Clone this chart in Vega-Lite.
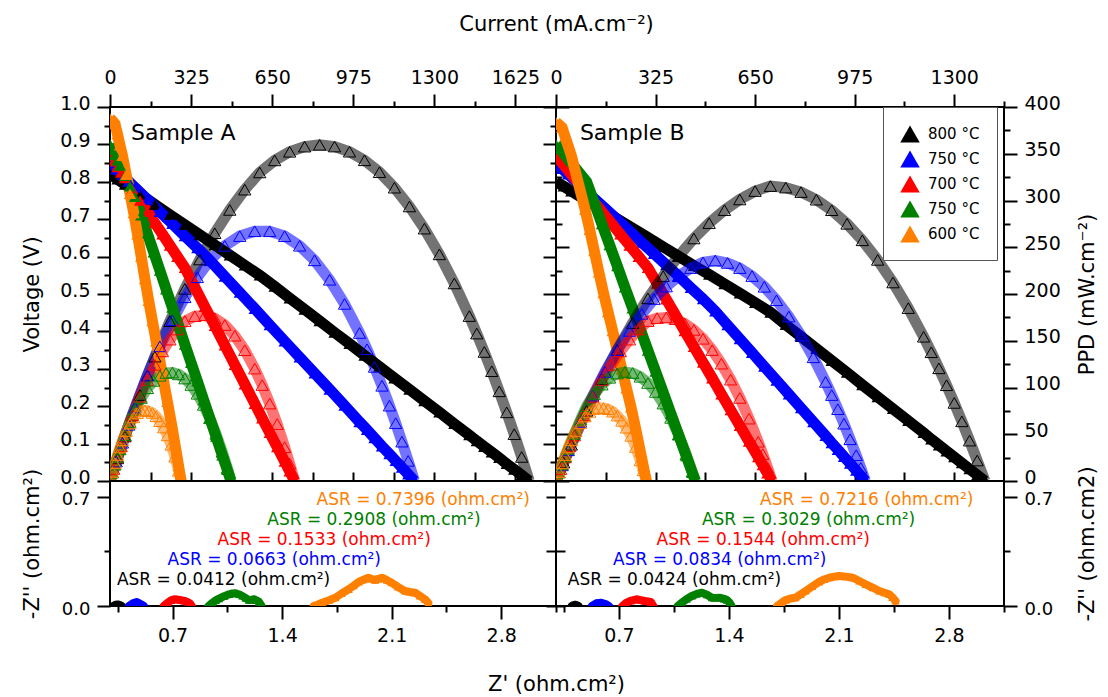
{
"$schema":"https://vega.github.io/schema/vega-lite/v6.json",
"background":"white",
"padding":{"left":20,"top":12,"right":12,"bottom":5},
"config":{
 "font":"DejaVu Sans",
 "view":{"stroke":"black","strokeWidth":2},
 "axis":{"grid":false,"domain":false,"tickColor":"black","tickWidth":2,"labelColor":"black","labelFont":"DejaVu Sans","labelFontSize":19,"titleFont":"DejaVu Sans","titleFontSize":21,"titleFontWeight":"normal","titleColor":"black","labelFlush":false,"labelOverlap":false,"labelPadding":7}
},
"datasets":{
"lbl":[{"s":"A","i":84,"v":0.93,"text":"Sample A"},{"s":"B","i":78,"v":0.93,"text":"Sample B"}],
"asr":[
{"s":"A","t":"600","zr":1.62,"zi":0.678,"label":"ASR = 0.7396 (ohm.cm²)"},
{"s":"A","t":"650","zr":1.305,"zi":0.548,"label":"ASR = 0.2908 (ohm.cm²)"},
{"s":"A","t":"700","zr":0.987,"zi":0.42,"label":"ASR = 0.1533 (ohm.cm²)"},
{"s":"A","t":"750","zr":0.668,"zi":0.292,"label":"ASR = 0.0663 (ohm.cm²)"},
{"s":"A","t":"800","zr":0.344,"zi":0.164,"label":"ASR = 0.0412 (ohm.cm²)"},
{"s":"B","t":"600","zr":1.598,"zi":0.676,"label":"ASR = 0.7216 (ohm.cm²)"},
{"s":"B","t":"650","zr":1.228,"zi":0.548,"label":"ASR = 0.3029 (ohm.cm²)"},
{"s":"B","t":"700","zr":0.94,"zi":0.42,"label":"ASR = 0.1544 (ohm.cm²)"},
{"s":"B","t":"750","zr":0.663,"zi":0.292,"label":"ASR = 0.0834 (ohm.cm²)"},
{"s":"B","t":"800","zr":0.375,"zi":0.164,"label":"ASR = 0.0424 (ohm.cm²)"}
],
"eis":[
{"s":"A","t":"800","zr":0.32,"zi":0},{"s":"A","t":"800","zr":0.335,"zi":0.008},{"s":"A","t":"800","zr":0.35,"zi":0.01},{"s":"A","t":"800","zr":0.365,"zi":0.006},{"s":"A","t":"800","zr":0.375,"zi":0},
{"s":"A","t":"750","zr":0.42,"zi":0},{"s":"A","t":"750","zr":0.446,"zi":0.017},{"s":"A","t":"750","zr":0.471,"zi":0.026},{"s":"A","t":"750","zr":0.498,"zi":0.011},{"s":"A","t":"750","zr":0.516,"zi":0},
{"s":"A","t":"700","zr":0.643,"zi":0},{"s":"A","t":"700","zr":0.668,"zi":0.021},{"s":"A","t":"700","zr":0.69,"zi":0.036},{"s":"A","t":"700","zr":0.711,"zi":0.043},{"s":"A","t":"700","zr":0.732,"zi":0.041},{"s":"A","t":"700","zr":0.753,"zi":0.038},{"s":"A","t":"700","zr":0.775,"zi":0.033},{"s":"A","t":"700","zr":0.796,"zi":0.026},{"s":"A","t":"700","zr":0.812,"zi":0.015},{"s":"A","t":"700","zr":0.823,"zi":0},
{"s":"A","t":"650","zr":0.929,"zi":0},{"s":"A","t":"650","zr":0.955,"zi":0.021},{"s":"A","t":"650","zr":0.976,"zi":0.036},{"s":"A","t":"650","zr":0.997,"zi":0.047},{"s":"A","t":"650","zr":1.03,"zi":0.063},{"s":"A","t":"650","zr":1.061,"zi":0.075},{"s":"A","t":"650","zr":1.082,"zi":0.08},{"s":"A","t":"650","zr":1.103,"zi":0.081},{"s":"A","t":"650","zr":1.125,"zi":0.074},{"s":"A","t":"650","zr":1.146,"zi":0.064},{"s":"A","t":"650","zr":1.167,"zi":0.05},{"s":"A","t":"650","zr":1.188,"zi":0.038},{"s":"A","t":"650","zr":1.205,"zi":0.04},{"s":"A","t":"650","zr":1.22,"zi":0.043},{"s":"A","t":"650","zr":1.237,"zi":0.036},{"s":"A","t":"650","zr":1.252,"zi":0.026},{"s":"A","t":"650","zr":1.269,"zi":0},
{"s":"A","t":"600","zr":1.602,"zi":0},{"s":"A","t":"600","zr":1.63,"zi":0.01},{"s":"A","t":"600","zr":1.655,"zi":0.021},{"s":"A","t":"600","zr":1.7,"zi":0.037},{"s":"A","t":"600","zr":1.74,"zi":0.053},{"s":"A","t":"600","zr":1.78,"zi":0.08},{"s":"A","t":"600","zr":1.825,"zi":0.107},{"s":"A","t":"600","zr":1.857,"zi":0.13},{"s":"A","t":"600","zr":1.889,"zi":0.154},{"s":"A","t":"600","zr":1.92,"zi":0.168},{"s":"A","t":"600","zr":1.952,"zi":0.181},{"s":"A","t":"600","zr":1.973,"zi":0.173},{"s":"A","t":"600","zr":1.994,"zi":0.166},{"s":"A","t":"600","zr":2.015,"zi":0.174},{"s":"A","t":"600","zr":2.037,"zi":0.181},{"s":"A","t":"600","zr":2.07,"zi":0.165},{"s":"A","t":"600","zr":2.1,"zi":0.149},{"s":"A","t":"600","zr":2.14,"zi":0.122},{"s":"A","t":"600","zr":2.185,"zi":0.096},{"s":"A","t":"600","zr":2.215,"zi":0.09},{"s":"A","t":"600","zr":2.249,"zi":0.085},{"s":"A","t":"600","zr":2.28,"zi":0.065},{"s":"A","t":"600","zr":2.313,"zi":0.043},{"s":"A","t":"600","zr":2.334,"zi":0.02},
{"s":"B","t":"800","zr":0.4,"zi":0},{"s":"B","t":"800","zr":0.411,"zi":0.006},{"s":"B","t":"800","zr":0.422,"zi":0.008},{"s":"B","t":"800","zr":0.433,"zi":0.006},{"s":"B","t":"800","zr":0.443,"zi":0},
{"s":"B","t":"750","zr":0.529,"zi":0},{"s":"B","t":"750","zr":0.556,"zi":0.017},{"s":"B","t":"750","zr":0.588,"zi":0.021},{"s":"B","t":"750","zr":0.62,"zi":0.011},{"s":"B","t":"750","zr":0.637,"zi":0},
{"s":"B","t":"700","zr":0.722,"zi":0},{"s":"B","t":"700","zr":0.748,"zi":0.021},{"s":"B","t":"700","zr":0.78,"zi":0.035},{"s":"B","t":"700","zr":0.812,"zi":0.043},{"s":"B","t":"700","zr":0.838,"zi":0.038},{"s":"B","t":"700","zr":0.865,"zi":0.032},{"s":"B","t":"700","zr":0.885,"zi":0.029},{"s":"B","t":"700","zr":0.904,"zi":0.026},{"s":"B","t":"700","zr":0.919,"zi":0},
{"s":"B","t":"650","zr":1.074,"zi":0},{"s":"B","t":"650","zr":1.1,"zi":0.021},{"s":"B","t":"650","zr":1.132,"zi":0.045},{"s":"B","t":"650","zr":1.164,"zi":0.064},{"s":"B","t":"650","zr":1.196,"zi":0.077},{"s":"B","t":"650","zr":1.228,"zi":0.085},{"s":"B","t":"650","zr":1.26,"zi":0.072},{"s":"B","t":"650","zr":1.292,"zi":0.053},{"s":"B","t":"650","zr":1.318,"zi":0.052},{"s":"B","t":"650","zr":1.345,"zi":0.053},{"s":"B","t":"650","zr":1.368,"zi":0.046},{"s":"B","t":"650","zr":1.388,"zi":0.038},{"s":"B","t":"650","zr":1.405,"zi":0.02},{"s":"B","t":"650","zr":1.415,"zi":0.004},
{"s":"B","t":"600","zr":1.707,"zi":0},{"s":"B","t":"600","zr":1.735,"zi":0.02},{"s":"B","t":"600","zr":1.76,"zi":0.038},{"s":"B","t":"600","zr":1.792,"zi":0.048},{"s":"B","t":"600","zr":1.824,"zi":0.053},{"s":"B","t":"600","zr":1.856,"zi":0.074},{"s":"B","t":"600","zr":1.888,"zi":0.096},{"s":"B","t":"600","zr":1.93,"zi":0.125},{"s":"B","t":"600","zr":1.974,"zi":0.154},{"s":"B","t":"600","zr":2.006,"zi":0.17},{"s":"B","t":"600","zr":2.038,"zi":0.181},{"s":"B","t":"600","zr":2.07,"zi":0.188},{"s":"B","t":"600","zr":2.1,"zi":0.192},{"s":"B","t":"600","zr":2.145,"zi":0.188},{"s":"B","t":"600","zr":2.187,"zi":0.181},{"s":"B","t":"600","zr":2.23,"zi":0.16},{"s":"B","t":"600","zr":2.27,"zi":0.139},{"s":"B","t":"600","zr":2.315,"zi":0.117},{"s":"B","t":"600","zr":2.357,"zi":0.096},{"s":"B","t":"600","zr":2.39,"zi":0.085},{"s":"B","t":"600","zr":2.42,"zi":0.075},{"s":"B","t":"600","zr":2.44,"zi":0.055},{"s":"B","t":"600","zr":2.46,"zi":0.032}
],
"iv":[
{"s":"A","t":"800","i":0,"v":0.82,"p":0},{"s":"A","t":"800","i":30,"v":0.807,"p":24.2},{"s":"A","t":"800","i":60,"v":0.793,"p":47.6},{"s":"A","t":"800","i":90,"v":0.78,"p":70.2},{"s":"A","t":"800","i":120,"v":0.766,"p":91.9},{"s":"A","t":"800","i":150,"v":0.753,"p":112.9},{"s":"A","t":"800","i":180,"v":0.739,"p":133},{"s":"A","t":"800","i":240,"v":0.712,"p":170.9},{"s":"A","t":"800","i":300,"v":0.685,"p":205.5},{"s":"A","t":"800","i":360,"v":0.658,"p":236.9},{"s":"A","t":"800","i":420,"v":0.631,"p":265},{"s":"A","t":"800","i":480,"v":0.604,"p":289.9},{"s":"A","t":"800","i":540,"v":0.577,"p":311.6},{"s":"A","t":"800","i":600,"v":0.55,"p":330},{"s":"A","t":"800","i":660,"v":0.52,"p":342.9},{"s":"A","t":"800","i":720,"v":0.489,"p":352.1},{"s":"A","t":"800","i":780,"v":0.459,"p":357.6},{"s":"A","t":"800","i":840,"v":0.428,"p":359.5},{"s":"A","t":"800","i":900,"v":0.397,"p":357.7},{"s":"A","t":"800","i":960,"v":0.367,"p":352.2},{"s":"A","t":"800","i":1020,"v":0.336,"p":343},{"s":"A","t":"800","i":1080,"v":0.306,"p":330.3},{"s":"A","t":"800","i":1140,"v":0.275,"p":313.7},{"s":"A","t":"800","i":1200,"v":0.245,"p":293.6},{"s":"A","t":"800","i":1260,"v":0.214,"p":269.9},{"s":"A","t":"800","i":1320,"v":0.184,"p":242.4},{"s":"A","t":"800","i":1380,"v":0.153,"p":211.3},{"s":"A","t":"800","i":1440,"v":0.123,"p":176.4},{"s":"A","t":"800","i":1470,"v":0.107,"p":157.7},{"s":"A","t":"800","i":1500,"v":0.092,"p":138},{"s":"A","t":"800","i":1530,"v":0.077,"p":117.4},{"s":"A","t":"800","i":1560,"v":0.062,"p":95.9},{"s":"A","t":"800","i":1590,"v":0.046,"p":73.4},{"s":"A","t":"800","i":1620,"v":0.031,"p":50.1},{"s":"A","t":"800","i":1650,"v":0.016,"p":25.7},{"s":"A","t":"800","i":1680,"v":0,"p":0},
{"s":"A","t":"750","i":0,"v":0.85,"p":0},{"s":"A","t":"750","i":25,"v":0.834,"p":20.8},{"s":"A","t":"750","i":50,"v":0.818,"p":40.9},{"s":"A","t":"750","i":75,"v":0.801,"p":60.1},{"s":"A","t":"750","i":100,"v":0.785,"p":78.5},{"s":"A","t":"750","i":150,"v":0.753,"p":112.9},{"s":"A","t":"750","i":200,"v":0.72,"p":144},{"s":"A","t":"750","i":250,"v":0.688,"p":171.9},{"s":"A","t":"750","i":300,"v":0.655,"p":196.5},{"s":"A","t":"750","i":350,"v":0.623,"p":217.9},{"s":"A","t":"750","i":400,"v":0.59,"p":236},{"s":"A","t":"750","i":460,"v":0.547,"p":251.5},{"s":"A","t":"750","i":520,"v":0.504,"p":261.9},{"s":"A","t":"750","i":580,"v":0.461,"p":267.1},{"s":"A","t":"750","i":640,"v":0.417,"p":267.1},{"s":"A","t":"750","i":700,"v":0.374,"p":261.9},{"s":"A","t":"750","i":760,"v":0.331,"p":251.6},{"s":"A","t":"750","i":820,"v":0.288,"p":236},{"s":"A","t":"750","i":880,"v":0.245,"p":215.2},{"s":"A","t":"750","i":940,"v":0.202,"p":189.4},{"s":"A","t":"750","i":1000,"v":0.158,"p":158.3},{"s":"A","t":"750","i":1030,"v":0.137,"p":140.9},{"s":"A","t":"750","i":1060,"v":0.115,"p":122},{"s":"A","t":"750","i":1090,"v":0.093,"p":101.8},{"s":"A","t":"750","i":1120,"v":0.072,"p":80.6},{"s":"A","t":"750","i":1145,"v":0.054,"p":61.9},{"s":"A","t":"750","i":1170,"v":0.036,"p":42.1},{"s":"A","t":"750","i":1195,"v":0.018,"p":21.5},{"s":"A","t":"750","i":1220,"v":0,"p":0},
{"s":"A","t":"700","i":0,"v":0.87,"p":0},{"s":"A","t":"700","i":15,"v":0.855,"p":12.8},{"s":"A","t":"700","i":30,"v":0.84,"p":25.2},{"s":"A","t":"700","i":45,"v":0.825,"p":37.1},{"s":"A","t":"700","i":60,"v":0.81,"p":48.6},{"s":"A","t":"700","i":90,"v":0.78,"p":70.2},{"s":"A","t":"700","i":120,"v":0.75,"p":90},{"s":"A","t":"700","i":150,"v":0.72,"p":108},{"s":"A","t":"700","i":180,"v":0.69,"p":124.2},{"s":"A","t":"700","i":210,"v":0.66,"p":138.6},{"s":"A","t":"700","i":240,"v":0.63,"p":151.2},{"s":"A","t":"700","i":270,"v":0.6,"p":162},{"s":"A","t":"700","i":300,"v":0.57,"p":171},{"s":"A","t":"700","i":340,"v":0.518,"p":176.2},{"s":"A","t":"700","i":380,"v":0.466,"p":177.2},{"s":"A","t":"700","i":420,"v":0.415,"p":174.1},{"s":"A","t":"700","i":460,"v":0.363,"p":166.8},{"s":"A","t":"700","i":500,"v":0.311,"p":155.4},{"s":"A","t":"700","i":540,"v":0.259,"p":139.9},{"s":"A","t":"700","i":580,"v":0.207,"p":120.2},{"s":"A","t":"700","i":610,"v":0.168,"p":102.6},{"s":"A","t":"700","i":640,"v":0.129,"p":82.8},{"s":"A","t":"700","i":670,"v":0.091,"p":60.9},{"s":"A","t":"700","i":700,"v":0.052,"p":36.2},{"s":"A","t":"700","i":720,"v":0.026,"p":18.6},{"s":"A","t":"700","i":740,"v":0,"p":0},
{"s":"A","t":"650","i":0,"v":0.9,"p":0},{"s":"A","t":"650","i":10,"v":0.886,"p":8.9},{"s":"A","t":"650","i":20,"v":0.872,"p":17.4},{"s":"A","t":"650","i":30,"v":0.858,"p":25.7},{"s":"A","t":"650","i":40,"v":0.844,"p":33.8},{"s":"A","t":"650","i":60,"v":0.816,"p":49},{"s":"A","t":"650","i":80,"v":0.788,"p":63},{"s":"A","t":"650","i":100,"v":0.76,"p":76},{"s":"A","t":"650","i":125,"v":0.711,"p":88.8},{"s":"A","t":"650","i":150,"v":0.661,"p":99.2},{"s":"A","t":"650","i":175,"v":0.612,"p":107.1},{"s":"A","t":"650","i":200,"v":0.563,"p":112.5},{"s":"A","t":"650","i":225,"v":0.513,"p":115.5},{"s":"A","t":"650","i":250,"v":0.464,"p":116},{"s":"A","t":"650","i":275,"v":0.415,"p":114},{"s":"A","t":"650","i":300,"v":0.365,"p":109.6},{"s":"A","t":"650","i":325,"v":0.316,"p":102.7},{"s":"A","t":"650","i":350,"v":0.267,"p":93.3},{"s":"A","t":"650","i":375,"v":0.217,"p":81.4},{"s":"A","t":"650","i":400,"v":0.168,"p":67.1},{"s":"A","t":"650","i":425,"v":0.119,"p":50.4},{"s":"A","t":"650","i":450,"v":0.069,"p":31.1},{"s":"A","t":"650","i":470,"v":0.03,"p":13.9},{"s":"A","t":"650","i":485,"v":0,"p":0},
{"s":"A","t":"600","i":0,"v":0.97,"p":0},{"s":"A","t":"600","i":10,"v":0.9625,"p":9.6},{"s":"A","t":"600","i":20,"v":0.955,"p":19.1},{"s":"A","t":"600","i":30,"v":0.927,"p":27.8},{"s":"A","t":"600","i":40,"v":0.898,"p":35.9},{"s":"A","t":"600","i":50,"v":0.87,"p":43.5},{"s":"A","t":"600","i":65,"v":0.819,"p":53.2},{"s":"A","t":"600","i":80,"v":0.768,"p":61.4},{"s":"A","t":"600","i":95,"v":0.717,"p":68.1},{"s":"A","t":"600","i":110,"v":0.66,"p":72.6},{"s":"A","t":"600","i":125,"v":0.6,"p":75},{"s":"A","t":"600","i":140,"v":0.54,"p":75.6},{"s":"A","t":"600","i":155,"v":0.482,"p":74.7},{"s":"A","t":"600","i":170,"v":0.428,"p":72.8},{"s":"A","t":"600","i":185,"v":0.374,"p":69.2},{"s":"A","t":"600","i":200,"v":0.32,"p":64},{"s":"A","t":"600","i":215,"v":0.266,"p":57.2},{"s":"A","t":"600","i":230,"v":0.212,"p":48.8},{"s":"A","t":"600","i":245,"v":0.158,"p":38.7},{"s":"A","t":"600","i":260,"v":0.1,"p":26},{"s":"A","t":"600","i":275,"v":0.04,"p":11},{"s":"A","t":"600","i":285,"v":0,"p":0},
{"s":"B","t":"800","i":0,"v":0.8,"p":0},{"s":"B","t":"800","i":25,"v":0.788,"p":19.7},{"s":"B","t":"800","i":50,"v":0.775,"p":38.8},{"s":"B","t":"800","i":100,"v":0.75,"p":75},{"s":"B","t":"800","i":150,"v":0.726,"p":108.8},{"s":"B","t":"800","i":200,"v":0.701,"p":140.1},{"s":"B","t":"800","i":250,"v":0.676,"p":168.9},{"s":"B","t":"800","i":300,"v":0.651,"p":195.3},{"s":"B","t":"800","i":350,"v":0.626,"p":219.1},{"s":"B","t":"800","i":400,"v":0.601,"p":240.5},{"s":"B","t":"800","i":450,"v":0.576,"p":259.4},{"s":"B","t":"800","i":500,"v":0.552,"p":275.8},{"s":"B","t":"800","i":550,"v":0.527,"p":289.7},{"s":"B","t":"800","i":600,"v":0.502,"p":301.1},{"s":"B","t":"800","i":650,"v":0.477,"p":310.1},{"s":"B","t":"800","i":700,"v":0.451,"p":315.4},{"s":"B","t":"800","i":750,"v":0.418,"p":313.8},{"s":"B","t":"800","i":800,"v":0.386,"p":309},{"s":"B","t":"800","i":850,"v":0.354,"p":300.9},{"s":"B","t":"800","i":900,"v":0.322,"p":289.6},{"s":"B","t":"800","i":950,"v":0.29,"p":275.1},{"s":"B","t":"800","i":1000,"v":0.257,"p":257.4},{"s":"B","t":"800","i":1050,"v":0.225,"p":236.5},{"s":"B","t":"800","i":1100,"v":0.193,"p":212.3},{"s":"B","t":"800","i":1150,"v":0.161,"p":184.9},{"s":"B","t":"800","i":1200,"v":0.129,"p":154.3},{"s":"B","t":"800","i":1225,"v":0.112,"p":137.7},{"s":"B","t":"800","i":1250,"v":0.096,"p":120.5},{"s":"B","t":"800","i":1275,"v":0.08,"p":102.4},{"s":"B","t":"800","i":1300,"v":0.064,"p":83.5},{"s":"B","t":"800","i":1325,"v":0.048,"p":63.8},{"s":"B","t":"800","i":1350,"v":0.032,"p":43.2},{"s":"B","t":"800","i":1375,"v":0.016,"p":21.9},{"s":"B","t":"800","i":1400,"v":0,"p":0},
{"s":"B","t":"750","i":0,"v":0.85,"p":0},{"s":"B","t":"750","i":20,"v":0.835,"p":16.7},{"s":"B","t":"750","i":40,"v":0.82,"p":32.8},{"s":"B","t":"750","i":80,"v":0.79,"p":63.2},{"s":"B","t":"750","i":120,"v":0.759,"p":91.1},{"s":"B","t":"750","i":160,"v":0.729,"p":116.6},{"s":"B","t":"750","i":200,"v":0.699,"p":139.8},{"s":"B","t":"750","i":240,"v":0.669,"p":160.5},{"s":"B","t":"750","i":280,"v":0.638,"p":178.7},{"s":"B","t":"750","i":320,"v":0.608,"p":194.6},{"s":"B","t":"750","i":360,"v":0.578,"p":208},{"s":"B","t":"750","i":400,"v":0.548,"p":219},{"s":"B","t":"750","i":440,"v":0.517,"p":227.7},{"s":"B","t":"750","i":480,"v":0.487,"p":233.8},{"s":"B","t":"750","i":520,"v":0.454,"p":235.8},{"s":"B","t":"750","i":560,"v":0.417,"p":233.2},{"s":"B","t":"750","i":600,"v":0.38,"p":227.7},{"s":"B","t":"750","i":640,"v":0.343,"p":219.2},{"s":"B","t":"750","i":680,"v":0.306,"p":207.7},{"s":"B","t":"750","i":720,"v":0.269,"p":193.3},{"s":"B","t":"750","i":760,"v":0.232,"p":175.9},{"s":"B","t":"750","i":800,"v":0.195,"p":155.6},{"s":"B","t":"750","i":840,"v":0.158,"p":132.3},{"s":"B","t":"750","i":880,"v":0.121,"p":106},{"s":"B","t":"750","i":900,"v":0.102,"p":91.9},{"s":"B","t":"750","i":920,"v":0.084,"p":76.8},{"s":"B","t":"750","i":940,"v":0.065,"p":61.3},{"s":"B","t":"750","i":960,"v":0.047,"p":44.6},{"s":"B","t":"750","i":980,"v":0.028,"p":27.6},{"s":"B","t":"750","i":995,"v":0.014,"p":14},{"s":"B","t":"750","i":1010,"v":0,"p":0},
{"s":"B","t":"700","i":0,"v":0.87,"p":0},{"s":"B","t":"700","i":15,"v":0.855,"p":12.8},{"s":"B","t":"700","i":30,"v":0.84,"p":25.2},{"s":"B","t":"700","i":45,"v":0.825,"p":37.1},{"s":"B","t":"700","i":60,"v":0.81,"p":48.6},{"s":"B","t":"700","i":90,"v":0.78,"p":70.2},{"s":"B","t":"700","i":120,"v":0.75,"p":90},{"s":"B","t":"700","i":150,"v":0.72,"p":108},{"s":"B","t":"700","i":180,"v":0.69,"p":124.2},{"s":"B","t":"700","i":210,"v":0.66,"p":138.6},{"s":"B","t":"700","i":240,"v":0.63,"p":151.2},{"s":"B","t":"700","i":270,"v":0.6,"p":162},{"s":"B","t":"700","i":300,"v":0.57,"p":171},{"s":"B","t":"700","i":330,"v":0.528,"p":174.2},{"s":"B","t":"700","i":360,"v":0.486,"p":174.9},{"s":"B","t":"700","i":390,"v":0.444,"p":173},{"s":"B","t":"700","i":420,"v":0.401,"p":168.5},{"s":"B","t":"700","i":450,"v":0.359,"p":161.6},{"s":"B","t":"700","i":480,"v":0.317,"p":152.1},{"s":"B","t":"700","i":510,"v":0.275,"p":140},{"s":"B","t":"700","i":540,"v":0.232,"p":125.5},{"s":"B","t":"700","i":570,"v":0.19,"p":108.4},{"s":"B","t":"700","i":600,"v":0.148,"p":88.8},{"s":"B","t":"700","i":630,"v":0.106,"p":66.7},{"s":"B","t":"700","i":660,"v":0.064,"p":42},{"s":"B","t":"700","i":675,"v":0.043,"p":28.8},{"s":"B","t":"700","i":690,"v":0.021,"p":14.8},{"s":"B","t":"700","i":705,"v":0,"p":0},
{"s":"B","t":"650","i":0,"v":0.9,"p":0},{"s":"B","t":"650","i":10,"v":0.89,"p":8.9},{"s":"B","t":"650","i":20,"v":0.88,"p":17.6},{"s":"B","t":"650","i":30,"v":0.87,"p":26.1},{"s":"B","t":"650","i":40,"v":0.86,"p":34.4},{"s":"B","t":"650","i":60,"v":0.84,"p":50.4},{"s":"B","t":"650","i":80,"v":0.82,"p":65.6},{"s":"B","t":"650","i":100,"v":0.8,"p":80},{"s":"B","t":"650","i":125,"v":0.744,"p":93},{"s":"B","t":"650","i":150,"v":0.687,"p":103.1},{"s":"B","t":"650","i":175,"v":0.631,"p":110.4},{"s":"B","t":"650","i":200,"v":0.575,"p":114.9},{"s":"B","t":"650","i":225,"v":0.518,"p":116.6},{"s":"B","t":"650","i":250,"v":0.462,"p":115.5},{"s":"B","t":"650","i":275,"v":0.406,"p":111.5},{"s":"B","t":"650","i":300,"v":0.349,"p":104.8},{"s":"B","t":"650","i":325,"v":0.293,"p":95.2},{"s":"B","t":"650","i":350,"v":0.237,"p":82.8},{"s":"B","t":"650","i":375,"v":0.18,"p":67.5},{"s":"B","t":"650","i":400,"v":0.124,"p":49.5},{"s":"B","t":"650","i":425,"v":0.067,"p":28.6},{"s":"B","t":"650","i":445,"v":0.022,"p":10},{"s":"B","t":"650","i":455,"v":0,"p":0},
{"s":"B","t":"600","i":0,"v":0.96,"p":0},{"s":"B","t":"600","i":10,"v":0.9525,"p":9.5},{"s":"B","t":"600","i":20,"v":0.945,"p":18.9},{"s":"B","t":"600","i":30,"v":0.92,"p":27.6},{"s":"B","t":"600","i":40,"v":0.895,"p":35.8},{"s":"B","t":"600","i":50,"v":0.87,"p":43.5},{"s":"B","t":"600","i":65,"v":0.822,"p":53.4},{"s":"B","t":"600","i":80,"v":0.774,"p":61.9},{"s":"B","t":"600","i":95,"v":0.726,"p":69},{"s":"B","t":"600","i":110,"v":0.672,"p":73.9},{"s":"B","t":"600","i":125,"v":0.615,"p":76.9},{"s":"B","t":"600","i":140,"v":0.558,"p":78.1},{"s":"B","t":"600","i":155,"v":0.503,"p":78},{"s":"B","t":"600","i":170,"v":0.452,"p":76.8},{"s":"B","t":"600","i":185,"v":0.401,"p":74.2},{"s":"B","t":"600","i":200,"v":0.35,"p":70},{"s":"B","t":"600","i":215,"v":0.299,"p":64.3},{"s":"B","t":"600","i":230,"v":0.248,"p":57},{"s":"B","t":"600","i":245,"v":0.197,"p":48.3},{"s":"B","t":"600","i":260,"v":0.14,"p":36.4},{"s":"B","t":"600","i":275,"v":0.08,"p":22},{"s":"B","t":"600","i":285,"v":0.04,"p":11.4},{"s":"B","t":"600","i":295,"v":0,"p":0}
]
},
"columns":2,
"spacing":0,
"bounds":"flush",
"align":"each",
"resolve":{"scale":{"color":"independent"}},
"concat":[
{"width":446,"height":374,
 "resolve":{"scale":{"x":"independent","y":"independent"}},
 "layer":[
  {"data":{"name":"iv"},"transform":[{"filter":"datum.s == 'A'"}],
   "mark":{"type":"line","strokeWidth":11,"opacity":0.55,"clip":true},
   "encoding":{
    "x":{"field":"i","type":"quantitative","scale":{"domain":[0,1787.5],"nice":false,"zero":false},"axis":{"orient":"bottom","values":[162.5,325,487.5,650,812.5,975,1137.5,1300,1462.5,1625],"tickSize":-9,"labels":false,"title":null}},
    "y":{"field":"p","type":"quantitative","scale":{"domain":[0,400],"nice":false},"axis":{"orient":"right","values":[0,50,100,150,200,250,300,350,400],"tickSize":13,"labels":false,"title":null}},
    "color":{"field":"t","type":"nominal","scale":{"domain":["800","750","700","650","600"],"range":["#000000","#0000ff","#ff0000","#008000","#ff8000"]},"legend":null}}},
  {"data":{"name":"iv"},"transform":[{"filter":"datum.s == 'A'"}],
   "mark":{"type":"line","strokeWidth":11,"clip":true},
   "encoding":{
    "x":{"field":"i","type":"quantitative","scale":{"domain":[0,1787.5],"nice":false,"zero":false},"axis":{"orient":"top","values":[0,325,650,975,1300,1625],"format":"d","tickSize":13,"title":"Current (mA.cm⁻²)","titleX":446,"titleY":-83,"titleAngle":0,"titleAlign":"center","titleBaseline":"middle"}},
    "y":{"field":"v","type":"quantitative","scale":{"domain":[0,1],"nice":false},"axis":{"orient":"left","values":[0,0.1,0.2,0.3,0.4,0.5,0.6,0.7,0.8,0.9,1],"format":".1f","tickSize":13,"labelOffset":-4,"title":"Voltage (V)","titleX":-78,"titleY":187,"titleAngle":-90,"titleAlign":"center","titleBaseline":"middle"}},
    "color":{"field":"t","type":"nominal","scale":{"domain":["800","750","700","650","600"],"range":["#000000","#0000ff","#ff0000","#008000","#ff8000"]},"legend":null}}},
  {"data":{"name":"iv"},"transform":[{"filter":"datum.s == 'A'"}],
   "mark":{"type":"point","shape":"triangle-up","filled":true,"size":150,"opacity":1,"clip":true},
   "encoding":{
    "x":{"field":"i","type":"quantitative","scale":{"domain":[0,1787.5],"nice":false,"zero":false},"axis":{"orient":"top","values":[162.5,487.5,812.5,1137.5,1462.5],"tickSize":6,"labels":false,"title":null}},
    "y":{"field":"v","type":"quantitative","scale":{"domain":[0,1],"nice":false},"axis":{"orient":"left","values":[0.05,0.15,0.25,0.35,0.45,0.55,0.65,0.75,0.85,0.95],"tickSize":6,"labels":false,"title":null}},
    "color":{"field":"t","type":"nominal","scale":{"domain":["800","750","700","650","600"],"range":["#000000","#0000ff","#ff0000","#008000","#ff8000"]},"legend":null}}},
  {"data":{"name":"iv"},"transform":[{"filter":"datum.s == 'A'"}],
   "mark":{"type":"point","shape":"triangle-up","filled":false,"size":150,"strokeWidth":1,"opacity":1,"clip":true},
   "encoding":{
    "x":{"field":"i","type":"quantitative","scale":{"domain":[0,1787.5],"nice":false,"zero":false},"axis":null},
    "y":{"field":"p","type":"quantitative","scale":{"domain":[0,400],"nice":false},"axis":{"orient":"right","values":[25,75,125,175,225,275,325,375],"tickSize":6,"labels":false,"title":null}},
    "color":{"field":"t","type":"nominal","scale":{"domain":["800","750","700","650","600"],"range":["#000000","#0000ff","#ff0000","#008000","#ff8000"]},"legend":null}}},
  {"data":{"name":"lbl"},"transform":[{"filter":"datum.s == 'A'"}],
   "mark":{"type":"text","font":"DejaVu Sans","fontSize":22,"align":"left","baseline":"middle","color":"black"},
   "encoding":{
    "x":{"field":"i","type":"quantitative","scale":{"domain":[0,1787.5],"nice":false,"zero":false},"axis":null},
    "y":{"field":"v","type":"quantitative","scale":{"domain":[0,1],"nice":false},"axis":null},
    "text":{"field":"text"}}}
 ]},
{"width":448,"height":374,
 "resolve":{"scale":{"x":"independent","y":"independent"}},
 "layer":[
  {"data":{"name":"iv"},"transform":[{"filter":"datum.s == 'B'"}],
   "mark":{"type":"point","shape":"triangle-up","filled":true,"size":150,"opacity":1,"clip":true},
   "encoding":{
    "x":{"field":"i","type":"quantitative","scale":{"domain":[0,1462.5],"nice":false,"zero":false},"axis":{"orient":"top","values":[162.5,487.5,812.5,1137.5,1462.5],"tickSize":6,"labels":false,"title":null}},
    "y":{"field":"v","type":"quantitative","scale":{"domain":[0,1],"nice":false},"axis":{"orient":"left","values":[0.05,0.15,0.25,0.35,0.45,0.55,0.65,0.75,0.85,0.95],"tickSize":6,"labels":false,"title":null}},
    "color":{"field":"t","type":"nominal","scale":{"domain":["800","750","700","650","600"],"range":["#000000","#0000ff","#ff0000","#008000","#ff8000"]},
     "legend":{"orient":"none","legendX":327,"legendY":0,"title":null,"symbolType":"triangle-up","symbolSize":380,"symbolStrokeWidth":0,"labelFont":"DejaVu Sans","labelFontSize":15,"labelColor":"black","labelOffset":8,"rowPadding":6,"padding":17,"strokeColor":"#555555","fillColor":"white","labelExpr":"datum.label == '650' ? '750 °C' : datum.label + ' °C'"}}}},
  {"data":{"name":"iv"},"transform":[{"filter":"datum.s == 'B'"}],
   "mark":{"type":"line","strokeWidth":11,"clip":true},
   "encoding":{
    "x":{"field":"i","type":"quantitative","scale":{"domain":[0,1462.5],"nice":false,"zero":false},"axis":{"orient":"top","values":[0,325,650,975,1300],"format":"d","tickSize":13,"title":null}},
    "y":{"field":"v","type":"quantitative","scale":{"domain":[0,1],"nice":false},"axis":{"orient":"left","values":[0,0.1,0.2,0.3,0.4,0.5,0.6,0.7,0.8,0.9,1],"tickSize":13,"labels":false,"title":null}},
    "color":{"field":"t","type":"nominal","scale":{"domain":["800","750","700","650","600"],"range":["#000000","#0000ff","#ff0000","#008000","#ff8000"]}}}},
  {"data":{"name":"iv"},"transform":[{"filter":"datum.s == 'B'"}],
   "mark":{"type":"line","strokeWidth":11,"opacity":0.55,"clip":true},
   "encoding":{
    "x":{"field":"i","type":"quantitative","scale":{"domain":[0,1462.5],"nice":false,"zero":false},"axis":{"orient":"bottom","values":[162.5,325,487.5,650,812.5,975,1137.5,1300],"tickSize":-9,"labels":false,"title":null}},
    "y":{"field":"p","type":"quantitative","scale":{"domain":[0,400],"nice":false},"axis":{"orient":"right","values":[0,50,100,150,200,250,300,350,400],"format":"d","tickSize":13,"labelOffset":-4,"title":"PPD (mW.cm⁻²)","titleX":83,"titleY":187,"titleAngle":-90,"titleAlign":"center","titleBaseline":"middle"}},
    "color":{"field":"t","type":"nominal","scale":{"domain":["800","750","700","650","600"],"range":["#000000","#0000ff","#ff0000","#008000","#ff8000"]}}}},
  {"data":{"name":"iv"},"transform":[{"filter":"datum.s == 'B'"}],
   "mark":{"type":"point","shape":"triangle-up","filled":false,"size":150,"strokeWidth":1,"opacity":1,"clip":true},
   "encoding":{
    "x":{"field":"i","type":"quantitative","scale":{"domain":[0,1462.5],"nice":false,"zero":false},"axis":null},
    "y":{"field":"p","type":"quantitative","scale":{"domain":[0,400],"nice":false},"axis":{"orient":"right","values":[25,75,125,175,225,275,325,375],"tickSize":6,"labels":false,"title":null}},
    "color":{"field":"t","type":"nominal","scale":{"domain":["800","750","700","650","600"],"range":["#000000","#0000ff","#ff0000","#008000","#ff8000"]}}}},
  {"data":{"name":"lbl"},"transform":[{"filter":"datum.s == 'B'"}],
   "mark":{"type":"text","font":"DejaVu Sans","fontSize":22,"align":"left","baseline":"middle","color":"black"},
   "encoding":{
    "x":{"field":"i","type":"quantitative","scale":{"domain":[0,1462.5],"nice":false,"zero":false},"axis":null},
    "y":{"field":"v","type":"quantitative","scale":{"domain":[0,1],"nice":false},"axis":null},
    "text":{"field":"text"}}}
 ]},
{"width":446,"height":125,
 "resolve":{"scale":{"x":"independent","y":"independent"}},
 "layer":[
  {"data":{"name":"eis"},"transform":[{"filter":"datum.s == 'A'"}],
   "mark":{"type":"line","strokeWidth":8,"strokeJoin":"round","strokeCap":"round","clip":true},
   "encoding":{
    "x":{"field":"zr","type":"quantitative","scale":{"domain":[0.3,3.15],"nice":false,"zero":false},"axis":{"orient":"bottom","values":[0.7,1.4,2.1,2.8],"format":".1f","tickSize":13,"title":"Z' (ohm.cm²)","titleX":446,"titleY":78,"titleAngle":0,"titleAlign":"center","titleBaseline":"middle"}},
    "y":{"field":"zi","type":"quantitative","scale":{"domain":[0,0.8],"nice":false,"zero":false},"axis":{"orient":"left","values":[0,0.7],"format":".1f","tickSize":13,"labelOffset":3,"labelFontSize":18,"title":"-Z'' (ohm.cm²)","titleX":-78,"titleY":62.5,"titleAngle":-90,"titleAlign":"center","titleBaseline":"middle"}},
    "color":{"field":"t","type":"nominal","scale":{"domain":["800","750","700","650","600"],"range":["#000000","#0000ff","#ff0000","#008000","#ff8000"]},"legend":null}}},
  {"data":{"name":"eis"},"transform":[{"filter":"datum.s == 'A'"}],
   "mark":{"type":"point","shape":"triangle-up","filled":true,"size":70,"opacity":1,"clip":true},
   "encoding":{
    "x":{"field":"zr","type":"quantitative","scale":{"domain":[0.3,3.15],"nice":false,"zero":false},"axis":{"orient":"bottom","values":[0.35,1.05,1.75,2.45,3.15],"tickSize":6,"labels":false,"title":null}},
    "y":{"field":"zi","type":"quantitative","scale":{"domain":[0,0.8],"nice":false,"zero":false},"axis":{"orient":"left","values":[0.35],"tickSize":6,"labels":false,"title":null}},
    "color":{"field":"t","type":"nominal","scale":{"domain":["800","750","700","650","600"],"range":["#000000","#0000ff","#ff0000","#008000","#ff8000"]},"legend":null}}},
  {"data":{"name":"asr"},"transform":[{"filter":"datum.s == 'A'"}],
   "mark":{"type":"text","font":"DejaVu Sans","fontSize":17,"align":"left","baseline":"middle"},
   "encoding":{
    "x":{"field":"zr","type":"quantitative","scale":{"domain":[0.3,3.15],"nice":false,"zero":false},"axis":null},
    "y":{"field":"zi","type":"quantitative","scale":{"domain":[0,0.8],"nice":false,"zero":false},"axis":{"orient":"right","values":[0,0.35,0.7],"tickSize":9,"labels":false,"title":null}},
    "text":{"field":"label"},
    "color":{"field":"t","type":"nominal","scale":{"domain":["800","750","700","650","600"],"range":["#000000","#0000ff","#ff0000","#008000","#ff8000"]},"legend":null}}}
 ]},
{"width":448,"height":125,
 "resolve":{"scale":{"x":"independent","y":"independent"}},
 "layer":[
  {"data":{"name":"eis"},"transform":[{"filter":"datum.s == 'B'"}],
   "mark":{"type":"line","strokeWidth":8,"strokeJoin":"round","strokeCap":"round","clip":true},
   "encoding":{
    "x":{"field":"zr","type":"quantitative","scale":{"domain":[0.3,3.15],"nice":false,"zero":false},"axis":{"orient":"bottom","values":[0.7,1.4,2.1,2.8],"format":".1f","tickSize":13,"title":null}},
    "y":{"field":"zi","type":"quantitative","scale":{"domain":[0,0.8],"nice":false,"zero":false},"axis":{"orient":"right","values":[0,0.7],"format":".1f","tickSize":13,"labelOffset":3,"labelFontSize":18,"title":"-Z'' (ohm.cm2)","titleX":83,"titleY":62.5,"titleAngle":-90,"titleAlign":"center","titleBaseline":"middle"}},
    "color":{"field":"t","type":"nominal","scale":{"domain":["800","750","700","650","600"],"range":["#000000","#0000ff","#ff0000","#008000","#ff8000"]},"legend":null}}},
  {"data":{"name":"eis"},"transform":[{"filter":"datum.s == 'B'"}],
   "mark":{"type":"point","shape":"triangle-up","filled":true,"size":70,"opacity":1,"clip":true},
   "encoding":{
    "x":{"field":"zr","type":"quantitative","scale":{"domain":[0.3,3.15],"nice":false,"zero":false},"axis":{"orient":"bottom","values":[0.35,1.05,1.75,2.45,3.15],"tickSize":6,"labels":false,"title":null}},
    "y":{"field":"zi","type":"quantitative","scale":{"domain":[0,0.8],"nice":false,"zero":false},"axis":{"orient":"right","values":[0.35],"tickSize":6,"labels":false,"title":null}},
    "color":{"field":"t","type":"nominal","scale":{"domain":["800","750","700","650","600"],"range":["#000000","#0000ff","#ff0000","#008000","#ff8000"]},"legend":null}}},
  {"data":{"name":"asr"},"transform":[{"filter":"datum.s == 'B'"}],
   "mark":{"type":"text","font":"DejaVu Sans","fontSize":17,"align":"left","baseline":"middle"},
   "encoding":{
    "x":{"field":"zr","type":"quantitative","scale":{"domain":[0.3,3.15],"nice":false,"zero":false},"axis":null},
    "y":{"field":"zi","type":"quantitative","scale":{"domain":[0,0.8],"nice":false,"zero":false},"axis":{"orient":"left","values":[0,0.35,0.7],"tickSize":10,"labels":false,"title":null}},
    "text":{"field":"label"},
    "color":{"field":"t","type":"nominal","scale":{"domain":["800","750","700","650","600"],"range":["#000000","#0000ff","#ff0000","#008000","#ff8000"]},"legend":null}}}
 ]}
]
}
